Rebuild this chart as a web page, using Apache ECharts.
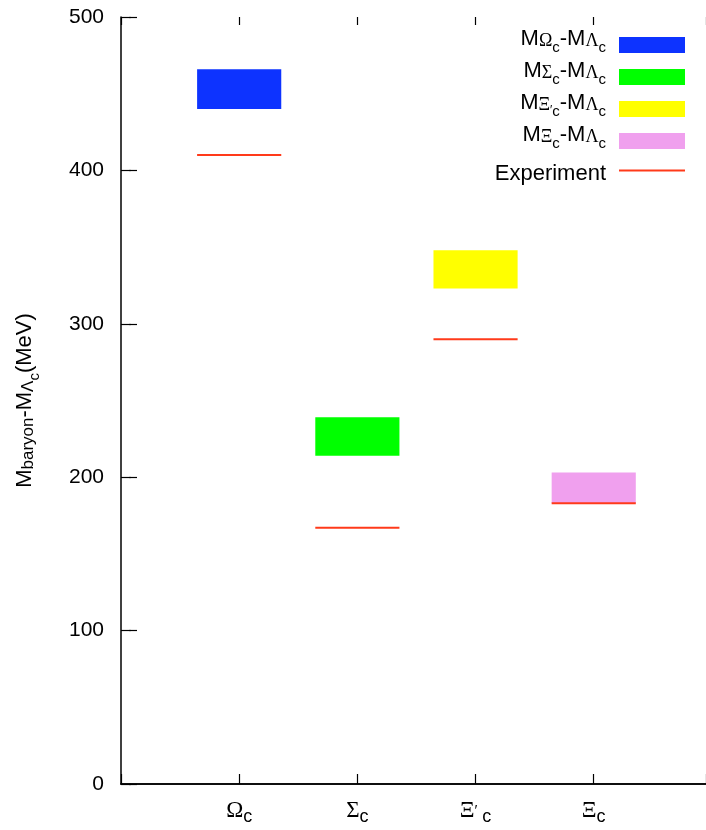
<!DOCTYPE html>
<html>
<head>
<meta charset="utf-8">
<script src="https://cdn.jsdelivr.net/npm/echarts@6/dist/echarts.min.js"></script>
<style>
html,body{margin:0;padding:0;background:#fff;}
#chart{width:706px;height:830px;}
</style>
</head>
<body>
<div id="chart"></div>
<script>
// ---- data ----
var categories = ['Ωc', 'Σc', 'Ξ′c', 'Ξc'];
var positions = [1, 2, 3, 4];
var lowerBounds = [440, 214, 323, 183];
var upperBounds = [466, 239, 348, 203];
var experiment = [410, 167, 290, 183];
var seriesNames = ['Omega', 'Sigma', 'XiPrime', 'Xi'];
var yTicks = [0, 100, 200, 300, 400, 500];

// ---- styles ----
var HALF = 0.356;
var colors = ['#0d33ff', '#00ff00', '#ffff00', '#f0a0ee'];
var red = '#ff3a1a';
var FONT = 'Liberation Sans';
var GREEK = 'Liberation Serif';
var X_MAX = 4.95;

var legendText = {
  Omega: '{m|M}{s1|Ω}{s2|c}{m|-M}{s1|Λ}{s2|c}',
  Sigma: '{m|M}{s1|Σ}{s2|c}{m|-M}{s1|Λ}{s2|c}',
  XiPrime: '{m|M}{s1|Ξ}{pr|′}{s2|c}{m|-M}{s1|Λ}{s2|c}',
  Xi: '{m|M}{s1|Ξ}{s2|c}{m|-M}{s1|Λ}{s2|c}',
  Experiment: '{e|Experiment}'
};
var axisText = {
  'Ωc': '{g|Ω}{c|c}',
  'Σc': '{g|Σ}{c|c}',
  'Ξ′c': '{g|Ξ}{p|′}{c| c}',
  'Ξc': '{g|Ξ}{c|c}'
};

var richLegend = {
  m: {fontFamily: FONT, fontSize: 22, lineHeight: 21, padding: [0, 0, 12, 0], color: '#000'},
  s1: {fontFamily: GREEK, fontSize: 18, lineHeight: 18, verticalAlign: 'bottom', padding: [0, 0, 5, 0], color: '#000'},
  s2: {fontFamily: FONT, fontSize: 15, lineHeight: 15, verticalAlign: 'bottom', color: '#000'},
  pr: {fontFamily: FONT, fontSize: 12, lineHeight: 12, verticalAlign: 'top', padding: [6, 0, 0, 0], color: '#000'},
  e: {fontFamily: FONT, fontSize: 22, lineHeight: 30, padding: [7, 0, 0, 0], color: '#000'}
};

var series = [];
positions.forEach(function (pos, i) {
  series.push({
    name: seriesNames[i],
    type: 'custom',
    color: colors[i],
    encode: {x: 0, y: [1, 2]},
    data: [[pos, lowerBounds[i], upperBounds[i]]],
    renderItem: function (params, api) {
      var x = api.value(0), lo = api.value(1), hi = api.value(2);
      var p1 = api.coord([x - HALF, hi]);
      var p2 = api.coord([x + HALF, lo]);
      return {
        type: 'rect',
        shape: {x: p1[0], y: p1[1], width: p2[0] - p1[0], height: p2[1] - p1[1]},
        style: {fill: colors[i]}
      };
    }
  });
});
positions.forEach(function (pos, i) {
  series.push({
    name: 'Experiment',
    type: 'line',
    symbol: 'none',
    color: red,
    lineStyle: {color: red, width: 2},
    data: [[pos - HALF, experiment[i]], [pos + HALF, experiment[i]]],
    z: 5
  });
});

function tickAxis(base, position, offset, len) {
  return Object.assign({}, base, {
    position: position,
    offset: offset,
    splitLine: {show: false},
    axisLine: {show: false},
    axisLabel: {show: false},
    axisTick: {show: true, length: len, lineStyle: {color: '#000', width: 1.2}}
  });
}
var xBase = {type: 'value', min: 0, max: X_MAX, interval: 1};
var yBase = {type: 'value', min: 0, max: 500, interval: 100};

var chart = echarts.init(document.getElementById('chart'), null, {renderer: 'canvas'});
chart.setOption({
  animation: false,
  backgroundColor: '#fff',
  grid: {left: 121, top: 17, right: 0, bottom: 45},
  legend: {
    orient: 'vertical',
    align: 'right',
    right: 21,
    top: 28,
    padding: 0,
    itemGap: -2,
    itemWidth: 66,
    itemHeight: 16,
    data: [
      {name: 'Omega', icon: 'rect'},
      {name: 'Sigma', icon: 'rect'},
      {name: 'XiPrime', icon: 'rect'},
      {name: 'Xi', icon: 'rect'},
      {name: 'Experiment', icon: 'path://M0,0H66V2H0Z'}
    ],
    formatter: function (name) { return legendText[name]; },
    textStyle: {rich: richLegend, padding: [0, 8, 0, 0]}
  },
  xAxis: [
    Object.assign({}, xBase, {
      position: 'bottom',
      splitLine: {show: false},
      axisLine: {show: true, lineStyle: {color: '#000', width: 1.5}},
      axisTick: {show: false},
      axisLabel: {
        margin: 19,
        showMaxLabel: false,
        formatter: function (v) {
          var idx = positions.indexOf(v);
          return idx >= 0 ? axisText[categories[idx]] : '';
        },
        rich: {
          g: {fontFamily: GREEK, fontSize: 23, lineHeight: 23, padding: [0, 0, 8, 0], color: '#000'},
          c: {fontFamily: FONT, fontSize: 18, lineHeight: 18, verticalAlign: 'bottom', color: '#000'},
          p: {fontFamily: FONT, fontSize: 15, lineHeight: 15, verticalAlign: 'top', color: '#000'}
        }
      }
    }),
    Object.assign({}, xBase, {
      position: 'top',
      splitLine: {show: false},
      axisLine: {show: true, lineStyle: {color: '#000', width: 1.5}},
      axisTick: {show: false},
      axisLabel: {show: false}
    }),
    tickAxis(xBase, 'bottom', -10, 10),
    tickAxis(xBase, 'top', -8, 8)
  ],
  yAxis: [
    Object.assign({}, yBase, {
      position: 'left',
      splitLine: {show: false},
      axisLine: {show: true, lineStyle: {color: '#000', width: 1.5}},
      axisTick: {show: false},
      axisLabel: {
        margin: 17, fontFamily: FONT, fontSize: 21, color: '#000',
        formatter: function (v) { return yTicks.indexOf(v) >= 0 ? String(v) : ''; }
      },
      name: '{m|M}{s1|baryon}{m|-M}{s1|Λ}{s2|c}{m|(MeV)}',
      nameLocation: 'middle',
      nameRotate: 90,
      nameGap: 79,
      nameTextStyle: {
        rich: {
          m: {fontFamily: FONT, fontSize: 22, lineHeight: 22, padding: [0, 0, 12, 0], color: '#000'},
          s1: {fontFamily: FONT, fontSize: 17, lineHeight: 17, verticalAlign: 'bottom', padding: [0, 0, 5, 0], color: '#000'},
          s2: {fontFamily: FONT, fontSize: 15, lineHeight: 15, verticalAlign: 'bottom', color: '#000'}
        }
      }
    }),
    tickAxis(yBase, 'left', -10, 10),
    tickAxis(yBase, 'right', -8, 8)
  ],
  series: series
});
</script>
</body>
</html>
